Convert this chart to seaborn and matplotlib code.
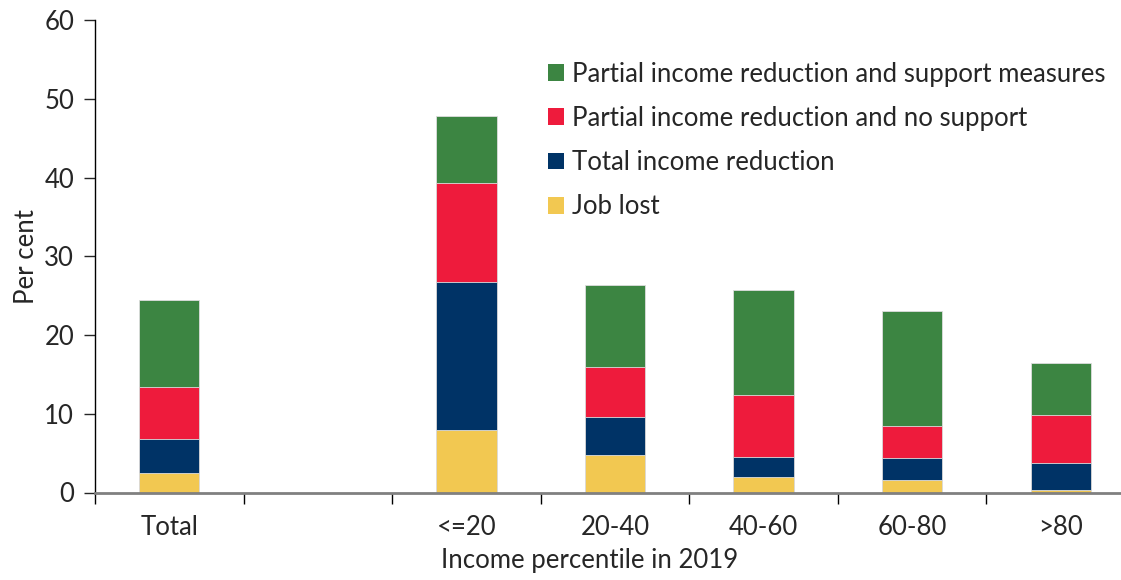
import matplotlib
matplotlib.use("Agg")
import matplotlib.pyplot as plt
import seaborn as sns
import pandas as pd
import numpy as np
from matplotlib.patches import Patch

categories = ["Total", "", "<=20", "20-40", "40-60", "60-80", ">80"]
data_cats = ["Total", "<=20", "20-40", "40-60", "60-80", ">80"]
job_lost = [2.45, 8.0, 4.7, 1.95, 1.6, 0.35]
total_reduction = [4.4, 18.7, 4.9, 2.55, 2.8, 3.45]
partial_no_support = [6.55, 12.6, 6.35, 7.9, 4.1, 6.1]
partial_support = [11.05, 8.5, 10.35, 13.3, 14.6, 6.6]

series_names = ["Job lost", "Total income reduction",
                "Partial income reduction and no support",
                "Partial income reduction and support measures"]
colors = ["#F2C851", "#003366", "#EE1B3C", "#3C8542"]

sns.set_style("white")
plt.rcParams["font.family"] = ["Lato", "DejaVu Sans"]
FS = 18.5

fig = plt.figure(figsize=(11.21, 5.80), dpi=100)
W, H = 1121, 580
left, right, top, bottom = 95, 1135, 20, 492.5
ax = fig.add_axes([left / W, 1 - bottom / H, (right - left) / W, (bottom - top) / H])

layers = [job_lost, total_reduction, partial_no_support, partial_support]
cum = np.cumsum(np.array(layers), axis=0)
# draw tallest cumulative first
for i in range(len(layers) - 1, -1, -1):
    df = pd.DataFrame({"cat": data_cats, "val": cum[i]})
    sns.barplot(data=df, x="cat", y="val", order=categories, color=colors[i],
                width=0.405, saturation=1, ax=ax, edgecolor="#dddddd", linewidth=0.6)

ax.set_ylim(0, 60)
ax.set_xlim(-0.5, 6.5)
ax.set_yticks([0, 10, 20, 30, 40, 50, 60])
ax.tick_params(axis="y", labelsize=FS, length=8, width=1, direction="out", left=True, pad=7)
ax.tick_params(axis="x", which="major", length=0, labelsize=FS, pad=16)
ax.set_xticks(np.arange(-0.5, 6.6, 1.0), minor=True)
ax.tick_params(axis="x", which="minor", length=8, width=1, direction="out", bottom=True, color="black")

for s in ["top", "right"]:
    ax.spines[s].set_visible(False)
ax.spines["left"].set_color("black")
ax.spines["left"].set_linewidth(1)
ax.spines["bottom"].set_color("#808080")
ax.spines["bottom"].set_linewidth(2)

ax.set_ylabel("Per cent", fontsize=FS)
ax.yaxis.set_label_coords(-0.054, 0.5)
ax.set_xlabel("Income percentile in 2019", fontsize=FS)
ax.xaxis.set_label_coords(0.476, -0.118)

handles = [Patch(facecolor=colors[i], edgecolor="none") for i in range(3, -1, -1)]
labels = [series_names[i] for i in range(3, -1, -1)]
ax.legend(handles, labels, loc="upper left", bbox_to_anchor=(0.4356, 0.912), frameon=False,
          fontsize=FS, handlelength=0.62, handleheight=0.62, handletextpad=0.3,
          labelspacing=0.75, borderpad=0, borderaxespad=0)

fig.savefig("out.png", dpi=100)
